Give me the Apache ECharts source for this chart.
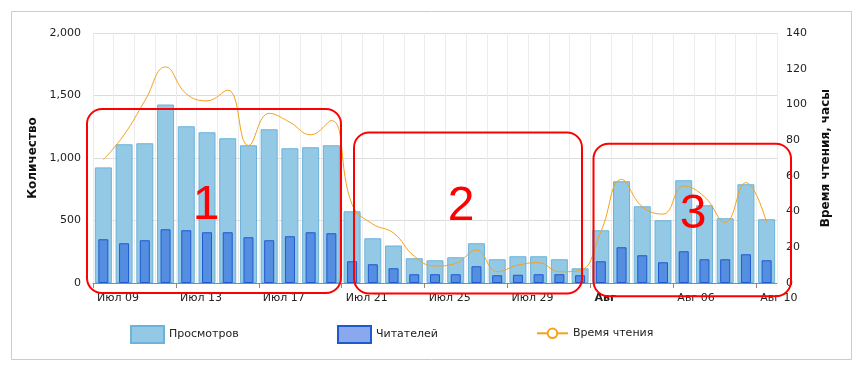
<!DOCTYPE html>
<html>
<head>
<meta charset="utf-8">
<script src="https://cdn.jsdelivr.net/npm/echarts@6/dist/echarts.min.js"></script>
<style>
html,body{margin:0;padding:0;background:#fff;}
#chart{width:861px;height:374px;}
</style>
</head>
<body>
<div id="chart"></div>
<script>
// Days: Jul 09 .. Aug 10
const categories = ['09.07','10.07','11.07','12.07','13.07','14.07','15.07','16.07','17.07','18.07','19.07','20.07',
  '21.07','22.07','23.07','24.07','25.07','26.07','27.07','28.07','29.07','30.07','31.07','01.08',
  '02.08','03.08','04.08','05.08','06.08','07.08','08.08','09.08','10.08'];
const views = [925,1110,1118,1428,1254,1206,1158,1102,1230,1078,1086,1102,
  574,358,300,198,182,206,318,190,214,214,190,118,
  422,814,614,502,822,622,518,790,510];
const readers = [350,318,342,430,422,406,406,366,342,374,406,398,
  174,150,118,70,70,70,134,62,66,70,70,62,
  174,286,222,166,254,190,190,230,182];
const readingHours = [69,83,102,121,106,102,108,77,95,90,83,91,
  44,33,28,15,9.5,11,18.5,6.3,10,11.4,6.3,7,
  28.7,58,42.7,38.6,54.3,48.3,34,56.2,33.8];
const xTickLabels = ['Июл 09','Июл 13','Июл 17','Июл 21','Июл 25','Июл 29','Авг','Авг 06','Авг 10'];
const boldTickLabels = ['Авг'];
const leftTicks = [0,500,1000,1500,2000];
const rightTicks = [0,20,40,60,80,100,120,140];
const seriesNames = ['Просмотров','Читателей','Время чтения'];

const chart = echarts.init(document.getElementById('chart'), null, {renderer:'canvas'});
const FONT = 'DejaVu Sans';
const legendText = {fontFamily:FONT,fontSize:11,color:'#222'};
const option = {
  animation:false,
  backgroundColor:'#fff',
  textStyle:{fontFamily:FONT},
  grid:{left:93,right:84,top:33,bottom:91,containLabel:false},
  legend:[
    {data:[seriesNames[0]],icon:'rect',left:130,top:325,padding:0,itemWidth:33,itemHeight:17,textStyle:legendText},
    {data:[seriesNames[1]],icon:'rect',left:337,top:325,padding:0,itemWidth:33,itemHeight:17,textStyle:legendText},
    {data:[seriesNames[2]],left:536,top:327.5,padding:0,itemWidth:31,itemHeight:12,textStyle:legendText}
  ],
  xAxis:[
    {type:'category',data:categories,boundaryGap:true,position:'bottom',
     axisLine:{show:true,lineStyle:{color:'#8a8a8a',width:1}},
     axisTick:{show:false},axisLabel:{show:false},
     splitLine:{show:true,interval:0,lineStyle:{color:'#ececec',width:1}}},
    {type:'category',data:categories,boundaryGap:true,show:false},
    {type:'value',min:0,max:categories.length,interval:4,position:'bottom',
     axisLine:{show:false},
     axisTick:{show:true,length:5,lineStyle:{color:'#8a8a8a'}},
     splitLine:{show:false},
     axisLabel:{show:true,margin:10,align:'left',padding:[0,0,0,4],fontSize:11,color:'#222',fontFamily:FONT,
       showMaxLabel:false,
       formatter:function(v){
         if(v%4!==0) return '';
         const t = xTickLabels[v/4];
         if(t===undefined) return '';
         return boldTickLabels.indexOf(t)>=0 ? '{b|'+t+'}' : t;
       },
       rich:{b:{fontWeight:'bold',fontSize:11,fontFamily:FONT,color:'#222'}}}}
  ],
  yAxis:[
    {type:'value',min:leftTicks[0],max:leftTicks[leftTicks.length-1],interval:leftTicks[1]-leftTicks[0],
     name:'Количество',nameLocation:'middle',nameRotate:90,nameGap:51,
     nameTextStyle:{fontWeight:'bold',fontSize:12,color:'#111',fontFamily:FONT},
     axisLine:{show:false},axisTick:{show:false},
     axisLabel:{margin:12,fontSize:11,color:'#222',fontFamily:FONT,formatter:function(v){return v.toLocaleString('en-US');}},
     splitLine:{show:true,lineStyle:{color:'#dcdcdc'}}},
    {type:'value',min:rightTicks[0],max:rightTicks[rightTicks.length-1],interval:rightTicks[1]-rightTicks[0],position:'right',
     name:'Время чтения, часы',nameLocation:'middle',nameRotate:90,nameGap:43,
     nameTextStyle:{fontWeight:'bold',fontSize:12,color:'#111',fontFamily:FONT},
     axisLine:{show:false},axisTick:{show:false},
     axisLabel:{margin:9,fontSize:11,color:'#222',fontFamily:FONT},
     splitLine:{show:false}}
  ],
  series:[
    {name:seriesNames[0],type:'bar',xAxisIndex:0,yAxisIndex:0,data:views,barWidth:17,z:2,
     itemStyle:{color:'#93c9e4',borderColor:'#6cb2da',borderWidth:1}},
    {name:seriesNames[1],type:'bar',xAxisIndex:1,yAxisIndex:0,data:readers,barWidth:10,z:3,
     itemStyle:{color:'rgba(28,88,222,0.52)',borderColor:'#1d5ad0',borderWidth:1}},
    {name:seriesNames[2],type:'line',xAxisIndex:0,yAxisIndex:1,data:readingHours,smooth:0.45,
     symbol:'emptyCircle',symbolSize:8,showSymbol:false,z:4,
     lineStyle:{color:'#f7a11a',width:1},
     itemStyle:{color:'#f7a11a',borderColor:'#f7a11a',borderWidth:2}}
  ],
  graphic:[
    {type:'rect',shape:{x:11.5,y:11.5,width:840,height:348},style:{fill:'none',stroke:'#cccccc',lineWidth:1},z:0,silent:true},
    {type:'rect',shape:{x:87,y:109,width:254,height:184,r:15},style:{fill:'none',stroke:'#ff0000',lineWidth:2},z:100},
    {type:'rect',shape:{x:354,y:132.5,width:228,height:161,r:15},style:{fill:'none',stroke:'#ff0000',lineWidth:2},z:100},
    {type:'rect',shape:{x:593.5,y:143.7,width:197.5,height:152.6,r:15},style:{fill:'none',stroke:'#ff0000',lineWidth:2},z:100},
    {type:'text',x:206,y:206,style:{text:'1',font:'48px "Liberation Sans"',fill:'#ff0000',align:'center',verticalAlign:'middle'},z:100},
    {type:'text',x:461,y:207,style:{text:'2',font:'48px "Liberation Sans"',fill:'#ff0000',align:'center',verticalAlign:'middle'},z:100},
    {type:'text',x:693,y:215,style:{text:'3',font:'48px "Liberation Sans"',fill:'#ff0000',align:'center',verticalAlign:'middle'},z:100}
  ]
};
chart.setOption(option);
</script>
</body>
</html>
